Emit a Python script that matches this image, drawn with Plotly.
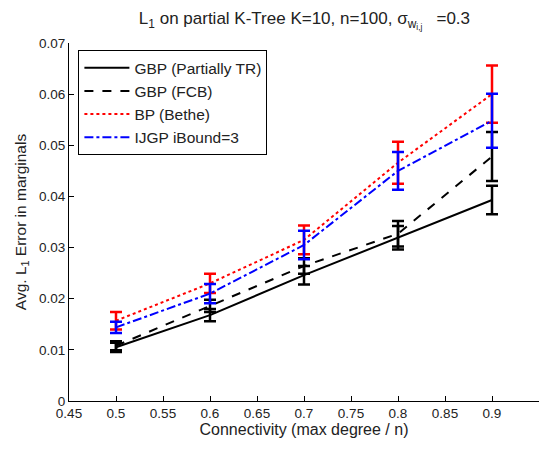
import plotly.graph_objects as go

connectivity = [0.5, 0.6, 0.7, 0.8, 0.9]

gbp_tr_mean = [0.0105, 0.0168, 0.0246, 0.0319, 0.0393]
gbp_tr_err = [0.0009, 0.0012, 0.0018, 0.0023, 0.0028]

gbp_fcb_mean = [0.0108, 0.0186, 0.0264, 0.0327, 0.0478]
gbp_fcb_err = [0.0009, 0.0012, 0.0015, 0.0025, 0.0048]

bp_mean = [0.0157, 0.0230, 0.0315, 0.0466, 0.0600]
bp_err = [0.0017, 0.0019, 0.0028, 0.0041, 0.0056]

ijgp_mean = [0.0144, 0.0210, 0.0305, 0.0450, 0.0548]
ijgp_err = [0.0011, 0.0019, 0.0028, 0.0037, 0.0053]

series_names = ["GBP (Partially TR)", "GBP (FCB)", "BP (Bethe)", "IJGP iBound=3"]

x_ticks = [0.45, 0.5, 0.55, 0.6, 0.65, 0.7, 0.75, 0.8, 0.85, 0.9, 0.95]
x_ticktext = ["0.45", "0.5", "0.55", "0.6", "0.65", "0.7", "0.75", "0.8", "0.85", "0.9", "0.95"]
y_ticks = [0, 0.01, 0.02, 0.03, 0.04, 0.05, 0.06, 0.07]
y_ticktext = ["0", "0.01", "0.02", "0.03", "0.04", "0.05", "0.06", "0.07"]

styles = [
    dict(color="black", dash="solid"),
    dict(color="black", dash="dash"),
    dict(color="red", dash="dot"),
    dict(color="blue", dash="dashdot"),
]
means = [gbp_tr_mean, gbp_fcb_mean, bp_mean, ijgp_mean]
errs = [gbp_tr_err, gbp_fcb_err, bp_err, ijgp_err]

fig = go.Figure()
for name, m, e, st in zip(series_names, means, errs, styles):
    fig.add_trace(go.Scatter(
        x=connectivity, y=m, name=name, mode="lines",
        line=dict(color=st["color"], dash=st["dash"], width=2),
        error_y=dict(type="data", array=e, visible=True, color=st["color"],
                     thickness=2.5, width=6),
    ))

font_family = "Liberation Sans, Arial, sans-serif"
fig.update_layout(
    width=539, height=434, autosize=False,
    paper_bgcolor="white", plot_bgcolor="white",
    margin=dict(l=61, r=8, t=35, b=39),
    font=dict(family=font_family, size=13.5, color="#222"),
    title=dict(
        text="L<sub>1</sub>&nbsp;on partial K-Tree K=10, n=100, σ<sub>w<sub>i,j</sub></sub>&nbsp;&nbsp;&nbsp;=0.3",
        x=0.55, xanchor="center", y=0.99, yanchor="top",
        font=dict(size=17, color="#222"),
    ),
    xaxis=dict(
        range=[0.45, 0.95], tickvals=x_ticks, ticktext=x_ticktext,
        ticks="inside", ticklen=5, tickcolor="black", showgrid=False,
        zeroline=False, showline=True, linecolor="black", linewidth=1,
        title=dict(text="Connectivity (max degree / n)", font=dict(size=16), standoff=2),
        tickfont=dict(size=13.5),
    ),
    yaxis=dict(
        range=[0, 0.07], tickvals=y_ticks, ticktext=y_ticktext,
        ticks="inside", ticklen=5, tickcolor="black", showgrid=False,
        zeroline=False, showline=True, linecolor="black", linewidth=1,
        title=dict(text="Avg. L<sub>1</sub> Error in marginals", font=dict(size=15.5), standoff=8),
        tickfont=dict(size=13.5),
    ),
    legend=dict(
        x=0.02, y=0.98, xanchor="left", yanchor="top",
        bgcolor="white", bordercolor="black", borderwidth=1,
        font=dict(size=15.5), itemwidth=45, tracegroupgap=0,
        entrywidth=208, entrywidthmode="pixels",
    ),
    showlegend=True,
)

fig.write_html("out.html")
